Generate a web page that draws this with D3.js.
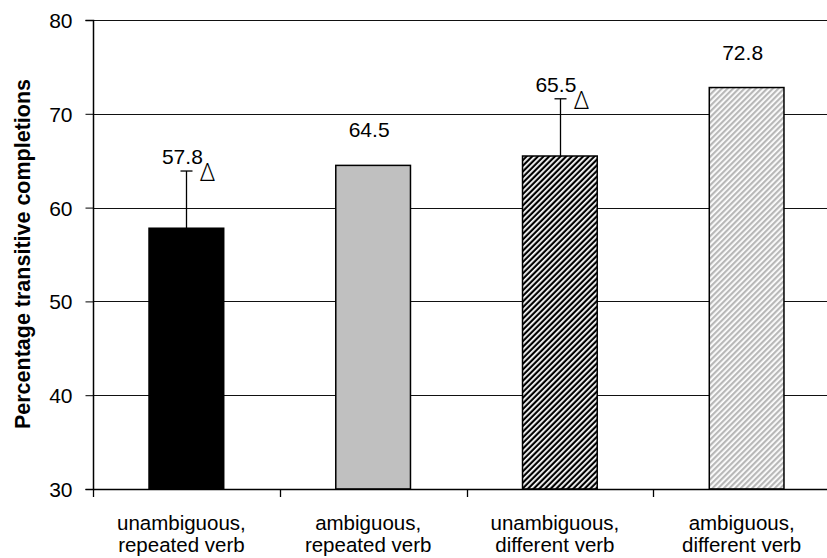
<!DOCTYPE html>
<html><head><meta charset="utf-8">
<script src="https://cdn.jsdelivr.net/npm/d3@7"></script>
<style>body{margin:0;background:#fff}svg{display:block;font-family:"Liberation Sans",Arial,sans-serif}</style>
</head><body><svg id="c" width="827" height="558"></svg>
<script>
const categories = [["unambiguous,","repeated verb"],["ambiguous,","repeated verb"],["unambiguous,","different verb"],["ambiguous,","different verb"]];
const values = [57.8, 64.5, 65.5, 72.8];
const errorsUp = [6.1, 0, 6.1, 0];
const markers = ["Δ", "", "Δ", ""];
const yTicks = [30, 40, 50, 60, 70, 80];
const yTitle = "Percentage transitive completions";

const svg = d3.select("#c");
const defs = svg.append("defs");
const p1 = defs.append("pattern").attr("id","darkDiag").attr("patternUnits","userSpaceOnUse")
  .attr("width",4).attr("height",4).attr("patternTransform","rotate(45)");
p1.append("rect").attr("width",4).attr("height",4).attr("fill","#000");
p1.append("rect").attr("x",0).attr("width",1.8).attr("height",4).attr("fill","#fff");
const p2 = defs.append("pattern").attr("id","lightDiag").attr("patternUnits","userSpaceOnUse")
  .attr("width",4).attr("height",4).attr("patternTransform","rotate(45)");
p2.append("rect").attr("width",4).attr("height",4).attr("fill","#fff");
p2.append("rect").attr("x",0).attr("width",2.2).attr("height",4).attr("fill","#b8b8b8");
const fills = ["#000", "#c0c0c0", "url(#darkDiag)", "url(#lightDiag)"];

const mLeft = 93, mRight = 840, mTop = 20, mBottom = 489;
const x = d3.scaleBand().domain(d3.range(4)).range([mLeft, mRight]).paddingInner(0.6).paddingOuter(0.3);
const xb = d3.scaleBand().domain(d3.range(4)).range([mLeft, mRight]);
const y = d3.scaleLinear().domain([30, 80]).range([mBottom, mTop]);

// gridlines
svg.append("g").selectAll("line").data(yTicks.filter(t => t > 30)).join("line")
  .attr("x1", mLeft).attr("x2", 827).attr("y1", d => Math.round(y(d))+0.5).attr("y2", d => Math.round(y(d))+0.5)
  .attr("stroke", "#111").attr("stroke-width", 1);

// bars
svg.append("g").selectAll("rect").data(values).join("rect")
  .attr("x", (d,i) => x(i)).attr("width", x.bandwidth())
  .attr("y", d => y(d)).attr("height", d => mBottom - y(d))
  .attr("fill", (d,i) => fills[i]).attr("stroke", "#000").attr("stroke-width", 1.5);

// error bars
const eb = svg.append("g");
values.forEach((v,i) => {
  if (!errorsUp[i]) return;
  const cx = Math.round(x(i) + x.bandwidth()/2) + 0.5;
  eb.append("line").attr("x1",cx).attr("x2",cx).attr("y1",y(v)).attr("y2",y(v+errorsUp[i])).attr("stroke","#000").attr("stroke-width",1.3);
  eb.append("line").attr("x1",cx-6).attr("x2",cx+6).attr("y1",y(v+errorsUp[i])).attr("y2",y(v+errorsUp[i])).attr("stroke","#000").attr("stroke-width",1.3);
  svg.append("text").attr("x", cx+21).attr("y", y(v+errorsUp[i])+10).attr("text-anchor","middle")
    .attr("font-size",26).attr("font-family","Open Sans").attr("font-weight",300).text(markers[i]);
});

// value labels
svg.append("g").selectAll("text").data(values).join("text")
  .attr("x", (d,i) => x(i) + x.bandwidth()/2 - 4)
  .attr("y", (d,i) => errorsUp[i] ? y(d+errorsUp[i]) - 7 : y(d) - 28)
  .attr("text-anchor","middle").attr("font-size",21).text(d => d.toFixed(1));

// y axis
const ya = svg.append("g").attr("transform",`translate(${mLeft+0.5},0)`)
  .call(d3.axisLeft(y).tickValues(yTicks).tickSize(8).tickPadding(13).tickFormat(d3.format("d")));
ya.select(".domain").attr("stroke","#000").attr("stroke-width",1.5).attr("d",`M-8,${mTop+0.5}H0V${mBottom+0.5}H-8`);
ya.selectAll(".tick line").attr("stroke","#000");
ya.selectAll(".tick text").attr("font-size",21).attr("font-family","Liberation Sans, Arial").attr("fill","#000").attr("dy","0.36em");

// x axis
svg.append("line").attr("x1",mLeft).attr("x2",827).attr("y1",mBottom+0.5).attr("y2",mBottom+0.5).attr("stroke","#000").attr("stroke-width",1.5);
svg.append("g").selectAll("line").data(d3.range(4)).join("line")
  .attr("x1", i => Math.round(xb(i))+0.5).attr("x2", i => Math.round(xb(i))+0.5)
  .attr("y1", mBottom).attr("y2", mBottom+8).attr("stroke","#000").attr("stroke-width",1.3);

const cl = svg.append("g").selectAll("text").data(categories).join("text")
  .attr("text-anchor","middle").attr("font-size",20.5)
  .attr("transform",(d,i) => `translate(${xb(i)+xb.bandwidth()/2 - 5},0)`);
cl.each(function(d){
  const t = d3.select(this);
  d.forEach((s,j) => t.append("tspan").attr("x",0).attr("y",530 + j*22).text(s));
});

svg.append("text").attr("transform","translate(30,254) rotate(-90)").attr("text-anchor","middle")
  .attr("font-size",21.5).attr("font-weight","bold").text(yTitle);
</script></body></html>
